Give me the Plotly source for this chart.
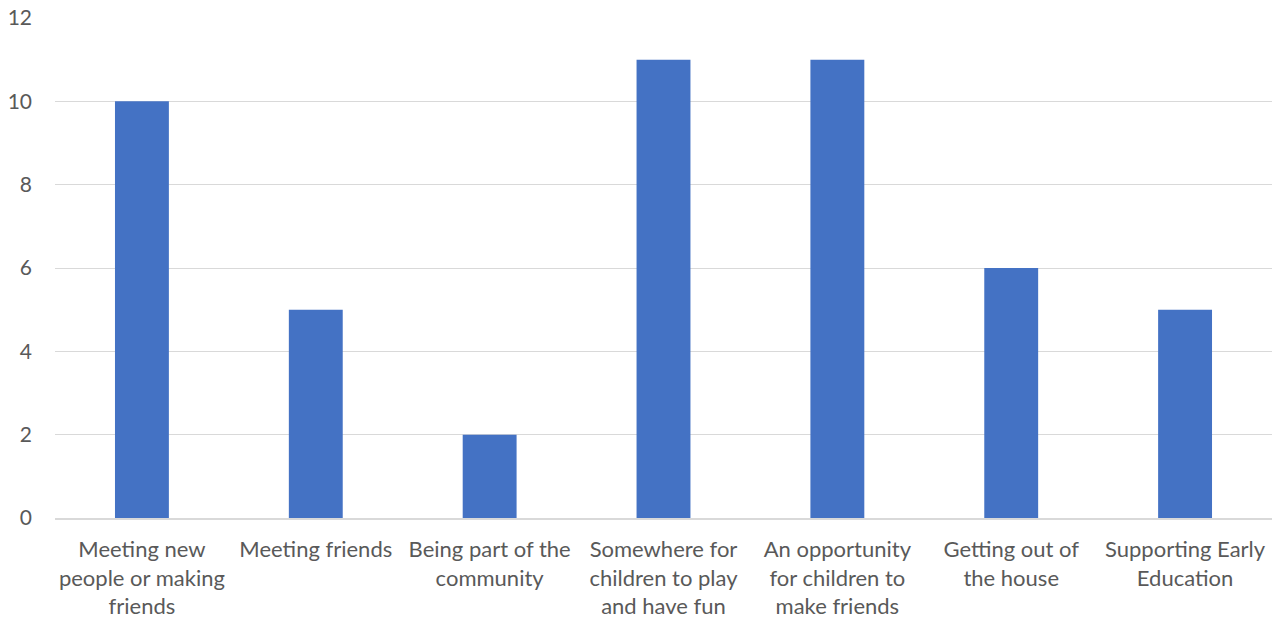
import plotly.graph_objects as go

categories = [
    "Meeting new<br>people or making<br>friends",
    "Meeting friends",
    "Being part of the<br>community",
    "Somewhere for<br>children to play<br>and have fun",
    "An opportunity<br>for children to<br>make friends",
    "Getting out of<br>the house",
    "Supporting Early<br>Education",
]
values = [10, 5, 2, 11, 11, 6, 5]
y_ticks = [0, 2, 4, 6, 8, 10, 12]

fig = go.Figure(go.Bar(x=categories, y=values, marker=dict(color="#4472C4", line=dict(width=0)), width=0.31))

fig.update_layout(
    width=1277, height=621,
    margin=dict(l=55, r=5, t=18, b=103),
    paper_bgcolor="white", plot_bgcolor="white",
    font=dict(family="Lato, Open Sans, sans-serif", size=22, color="#595959"),
    showlegend=False,
)
fig.update_xaxes(
    showline=True, linecolor="#d9d9d9", linewidth=1.5,
    showgrid=False, ticks="", tickangle=0, ticklabelstandoff=11, automargin=False,
    tickfont=dict(size=22, color="#595959"),
)
fig.update_yaxes(
    range=[0, 12], tickvals=y_ticks, showgrid=True, gridcolor="#d9d9d9", gridwidth=1.2,
    zeroline=False, showline=False, ticks="", ticklabelstandoff=22, automargin=False,
    tickfont=dict(size=21, color="#595959"),
)
fig.write_html("out.html")
